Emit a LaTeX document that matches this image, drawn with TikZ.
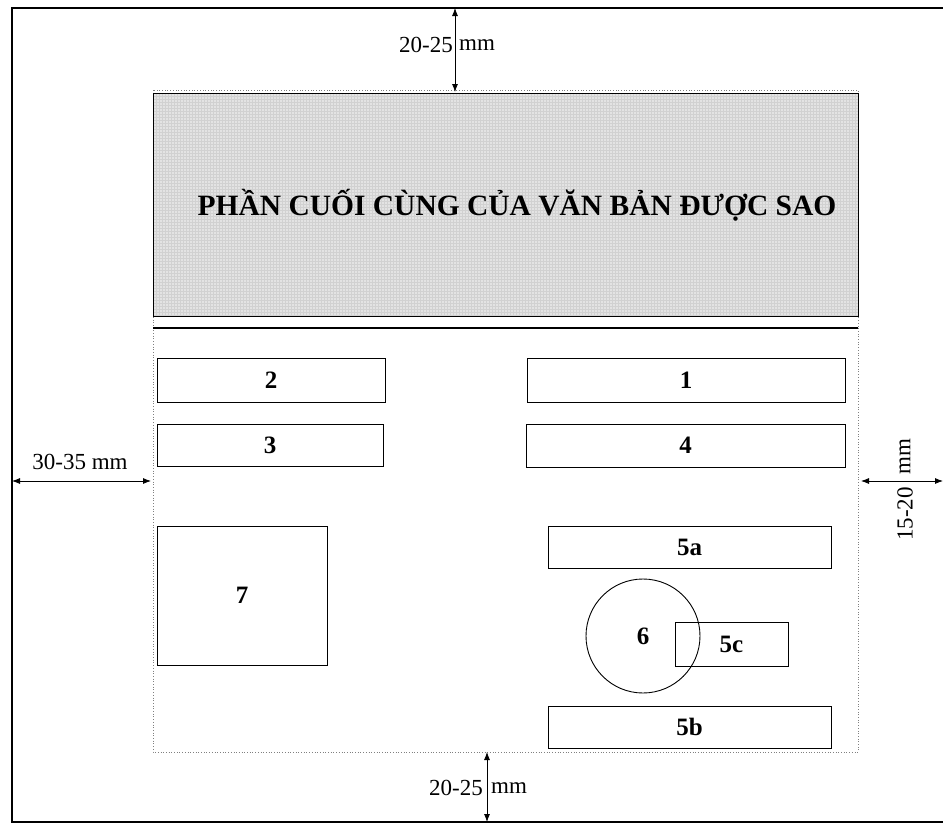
\documentclass[tikz,border=0pt]{standalone}
\usepackage{fontspec}
\setmainfont{Liberation Serif}
\usetikzlibrary{arrows.meta,patterns}
\tikzset{
  numbox/.style={draw=black, line width=0.9pt, inner sep=0pt, font=\fontsize{25}{27}\selectfont\bfseries},
  dimlbl/.style={font=\fontsize{23}{25}\selectfont, inner sep=0pt},
  dimarrow/.style={line width=0.8pt, {Latex[length=8pt,width=6pt]}-{Latex[length=8pt,width=6pt]}},
}
\begin{document}
\begin{tikzpicture}[x=1pt,y=-1pt]
\useasboundingbox (0,0) rectangle (943,825);
% outer page frame
\draw[line width=1.3pt] (943,8) -- (12,8) -- (12,822) -- (943,822);
% inner dotted frame (text area)
\draw[gray, dotted, line width=0.7pt] (153,90) rectangle (858,752);
% title block with grey texture
\fill[black!11] (153,93) rectangle (858,316);
\fill[pattern=grid, pattern color=black!18] (153,93) rectangle (858,316);
\draw[line width=0.9pt] (153,93) rectangle (858,316);
\draw[line width=1.6pt] (153,328) -- (858,328);
\node[font=\fontsize{29.5}{32}\selectfont\bfseries, inner sep=0pt] (title) at (517,205) {PHẦN CUỐI CÙNG CỦA VĂN BẢN ĐƯỢC SAO};
% boxes
\node[numbox, minimum width=228pt, minimum height=44pt] (b2) at (271,380) {2};
\node[numbox, minimum width=318pt, minimum height=44pt] (b1) at (686,380) {1};
\node[numbox, minimum width=226pt, minimum height=42pt] (b3) at (270,445) {3};
\node[numbox, minimum width=319pt, minimum height=43pt] (b4) at (685.5,445.5) {4};
\node[numbox, minimum width=170pt, minimum height=139pt] (b7) at (242,595.5) {7};
\node[numbox, minimum width=283pt, minimum height=42pt] (b5a) at (689.5,547) {5a};
\node[circle, draw=black, line width=0.9pt, minimum size=114pt, inner sep=0pt, font=\fontsize{25}{27}\selectfont\bfseries] (c6) at (643,636) {6};
\node[numbox, minimum width=113pt, minimum height=44pt] (b5c) at (731.5,644) {5c};
\node[numbox, minimum width=283pt, minimum height=42pt] (b5b) at (689.5,727) {5b};
% dimension arrows
\coordinate (tA) at (455,8);
\coordinate (tB) at (455,92);
\draw[dimarrow] (tA) -- (tB);
\node[dimlbl, anchor=east] (tl) at (453,45) {20-25};
\node[dimlbl, anchor=west] (tr) at (459,45) {mm};
\coordinate (lA) at (12,481);
\coordinate (lB) at (151,481);
\draw[dimarrow] (lA) -- (lB);
\node[dimlbl] (ll) at (80,462) {30-35 mm};
\coordinate (rA) at (861,481);
\coordinate (rB) at (943,481);
\draw[dimarrow] (rA) -- (rB);
\node[dimlbl, rotate=90, anchor=east] (rl) at (905,487) {15-20};
\node[dimlbl, rotate=90, anchor=west] (rr) at (905,475) {mm};
\coordinate (bA) at (487,752);
\coordinate (bB) at (487,822);
\draw[dimarrow] (bA) -- (bB);
\node[dimlbl, anchor=east] (bl) at (483,788) {20-25};
\node[dimlbl, anchor=west] (br) at (491,788) {mm};
\end{tikzpicture}
\end{document}
